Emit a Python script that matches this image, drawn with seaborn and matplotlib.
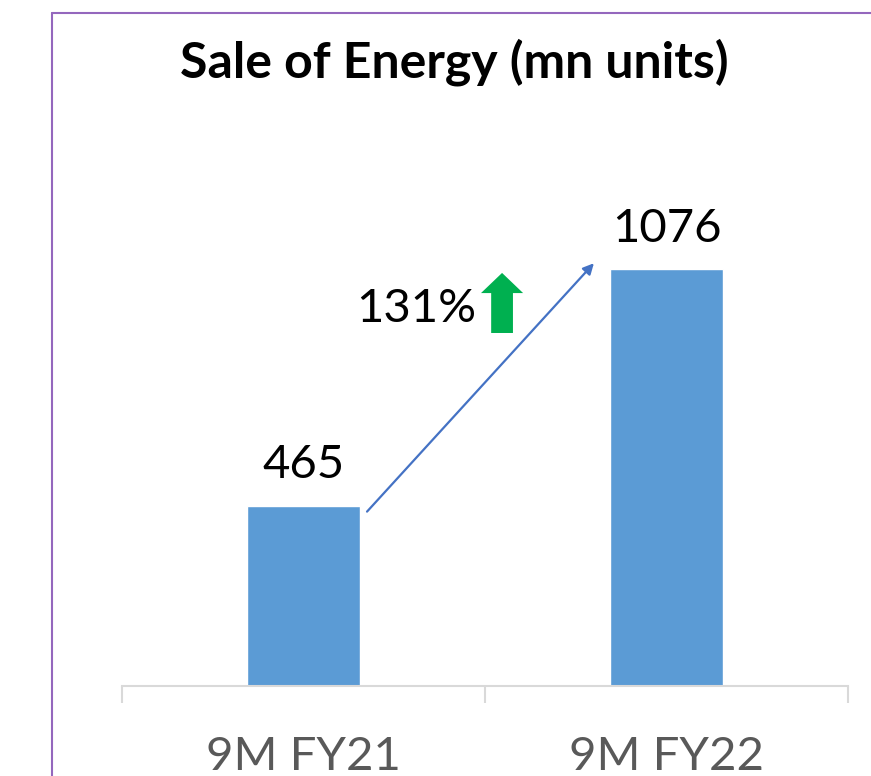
import matplotlib
matplotlib.use("Agg")
import matplotlib.pyplot as plt
import seaborn as sns
import pandas as pd
from matplotlib.lines import Line2D
from matplotlib.patches import FancyArrow

# chart data
periods = ["9M FY21", "9M FY22"]
energy_sold = [465, 1076]
growth_label = "131%"

df = pd.DataFrame({"period": periods, "energy": energy_sold})

sns.set_style("white")
plt.rcParams["font.family"] = ["Lato", "DejaVu Sans"]

W, H = 871, 776
fig = plt.figure(figsize=(W / 100, H / 100), dpi=100)
ax = fig.add_axes([122 / W, (H - 686) / H, (848 - 122) / W, 465 / H])

sns.barplot(data=df, x="period", y="energy", color="#5B9BD5", width=0.31,
            saturation=1, ax=ax)
ax.set_xlim(-0.5, 1.5)
ax.set_ylim(0, 1200)

# value labels
for i, v in enumerate(energy_sold):
    ax.text(i, v + 50, f"{v}", ha="center", va="bottom", fontsize=34, color="black")

# growth arrow between bars
ax.annotate("", xy=(1 - 0.2, energy_sold[1] + 15), xytext=(0 + 0.175, energy_sold[0] - 15),
            arrowprops=dict(arrowstyle="-|>", color="#4472C4", lw=1.6, mutation_scale=16,
                            shrinkA=0, shrinkB=0))
ax.text(0.475, 972, growth_label, ha="right", va="center", fontsize=34, color="black")
ax.add_patch(FancyArrow(0.547, 911, 0, 155, width=0.06, head_width=0.116,
                        head_length=52, length_includes_head=True,
                        color="#00B050", lw=0))

# axes styling
for s in ["left", "right", "top"]:
    ax.spines[s].set_visible(False)
ax.spines["bottom"].set_color("#D9D9D9")
ax.spines["bottom"].set_linewidth(1.5)
ax.set_yticks([])
ax.set_xlabel("")
ax.set_ylabel("")
ax.set_xticks([-0.5, 0.5, 1.5], minor=True)
ax.tick_params(axis="x", which="minor", bottom=True, length=12.2, width=1.5,
               color="#D9D9D9", direction="out")
ax.tick_params(axis="x", which="major", bottom=True, length=0, pad=36, labelsize=34,
               labelcolor="#595959")

fig.text(454 / W, 1 - 62 / H, "Sale of Energy (mn units)", ha="center", va="center",
         fontsize=36, fontweight="bold", color="black")

# purple frame
fig.add_artist(Line2D([52 / W, 52 / W], [1 - 13 / H, 0], color="#9467BD", lw=1.5))
fig.add_artist(Line2D([52 / W, 1], [1 - 13 / H, 1 - 13 / H], color="#9467BD", lw=1.5))

fig.savefig("out.png", dpi=100)
